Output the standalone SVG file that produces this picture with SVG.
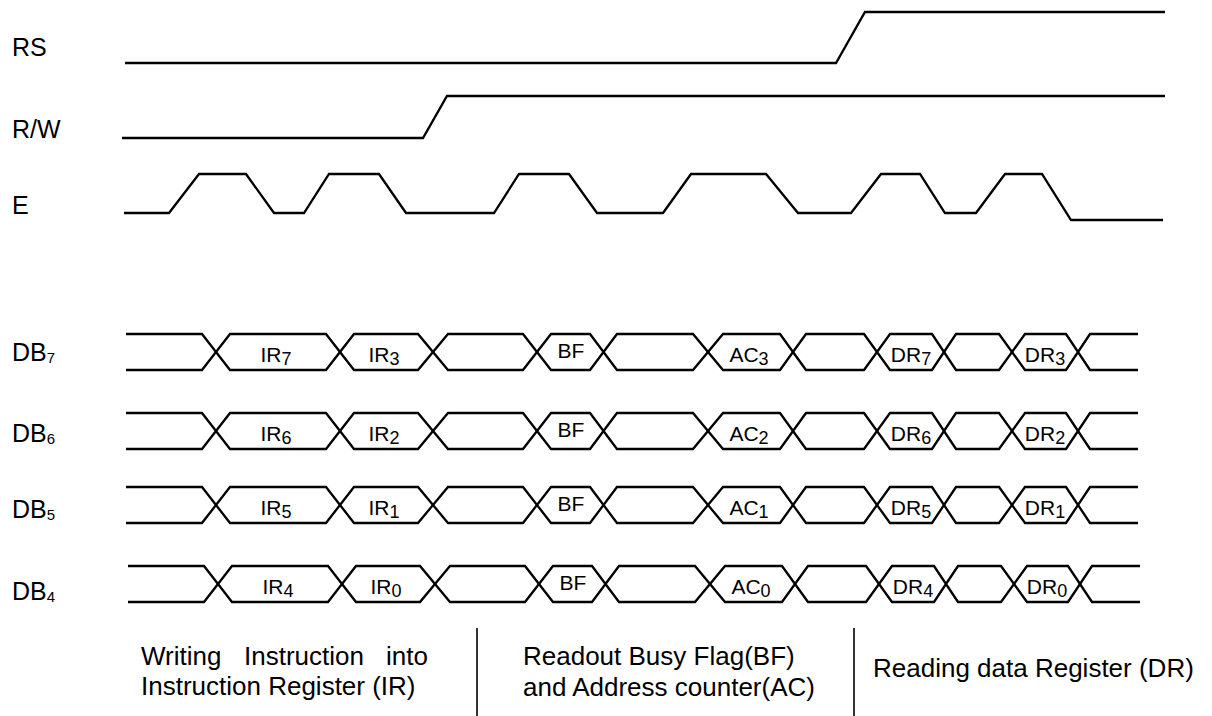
<svg xmlns="http://www.w3.org/2000/svg" xmlns:xlink="http://www.w3.org/1999/xlink" width="1212" height="716" viewBox="0 0 1212 716">
<style>
.w{fill:none;stroke:#000;stroke-width:2.3;stroke-linejoin:miter}
.lbl{font-family:"Liberation Sans",Arial,sans-serif;font-size:25px;fill:#000}
.seg{font-family:"Liberation Sans",Arial,sans-serif;font-size:21px;fill:#000;text-anchor:middle}
.sub{font-size:18px}
.lsub{font-size:15px}
.cap{font-family:"Liberation Sans",Arial,sans-serif;font-size:26px;fill:#000}
.div{stroke:#000;stroke-width:1.6}
</style>
<defs>
<path id="busA" d="M126,0 H202 L230,36 H326 L354,0 H418 L448,36 H523 L551,0 H590 L617,36 H693 L723,0 H780 L806,36 H864 L890,0 H932 L956,36 H999 L1025,0 H1066 L1090,36 H1138"/>
<path id="busB" d="M126,36 H202 L230,0 H326 L354,36 H418 L448,0 H523 L551,36 H590 L617,0 H693 L723,36 H780 L806,0 H864 L890,36 H932 L956,0 H999 L1025,36 H1066 L1090,0 H1138"/>
</defs>

<g id="labels">
<text class="lbl" x="12" y="56">RS</text>
<text class="lbl" x="12" y="138">R/W</text>
<text class="lbl" x="12" y="214">E</text>
<text class="lbl" x="12" y="361">DB<tspan class="lsub" dy="2">7</tspan></text>
<text class="lbl" x="12" y="442">DB<tspan class="lsub" dy="2">6</tspan></text>
<text class="lbl" x="12" y="518">DB<tspan class="lsub" dy="2">5</tspan></text>
<text class="lbl" x="12" y="600">DB<tspan class="lsub" dy="2">4</tspan></text>
</g>

<g id="connectors">
<path id="rs" class="w" d="M125,63 H836 L865,12 H1165"/>
<path id="rw" class="w" d="M122,138 H423 L447,96 H1165"/>
<path id="e" class="w" d="M124,213 H169 L199,174 H246 L274,213 H304 L329,174 H379 L406,213 H494 L519,174 H569 L597,213 H663 L691,174 H766 L798,213 H851 L881,174 H920 L945,213 H976 L1005,174 H1042 L1071,220 H1163"/>
</g>

<g id="db7" transform="translate(0,334)">
<use xlink:href="#busA" class="w"/><use xlink:href="#busB" class="w"/>
<text class="seg" x="276" y="28">IR<tspan class="sub" dy="3">7</tspan></text>
<text class="seg" x="384" y="28">IR<tspan class="sub" dy="3">3</tspan></text>
<text class="seg" x="571" y="24">BF</text>
<text class="seg" x="749" y="28">AC<tspan class="sub" dy="3">3</tspan></text>
<text class="seg" x="911" y="28">DR<tspan class="sub" dy="3">7</tspan></text>
<text class="seg" x="1045" y="28">DR<tspan class="sub" dy="3">3</tspan></text>
</g>

<g id="db6" transform="translate(0,413)">
<use xlink:href="#busA" class="w"/><use xlink:href="#busB" class="w"/>
<text class="seg" x="276" y="28">IR<tspan class="sub" dy="3">6</tspan></text>
<text class="seg" x="384" y="28">IR<tspan class="sub" dy="3">2</tspan></text>
<text class="seg" x="571" y="24">BF</text>
<text class="seg" x="749" y="28">AC<tspan class="sub" dy="3">2</tspan></text>
<text class="seg" x="911" y="28">DR<tspan class="sub" dy="3">6</tspan></text>
<text class="seg" x="1045" y="28">DR<tspan class="sub" dy="3">2</tspan></text>
</g>

<g id="db5" transform="translate(0,487)">
<use xlink:href="#busA" class="w"/><use xlink:href="#busB" class="w"/>
<text class="seg" x="276" y="28">IR<tspan class="sub" dy="3">5</tspan></text>
<text class="seg" x="384" y="28">IR<tspan class="sub" dy="3">1</tspan></text>
<text class="seg" x="571" y="24">BF</text>
<text class="seg" x="749" y="28">AC<tspan class="sub" dy="3">1</tspan></text>
<text class="seg" x="911" y="28">DR<tspan class="sub" dy="3">5</tspan></text>
<text class="seg" x="1045" y="28">DR<tspan class="sub" dy="3">1</tspan></text>
</g>

<g id="db4" transform="translate(2,566)">
<use xlink:href="#busA" class="w"/><use xlink:href="#busB" class="w"/>
<text class="seg" x="276" y="28">IR<tspan class="sub" dy="3">4</tspan></text>
<text class="seg" x="384" y="28">IR<tspan class="sub" dy="3">0</tspan></text>
<text class="seg" x="571" y="24">BF</text>
<text class="seg" x="749" y="28">AC<tspan class="sub" dy="3">0</tspan></text>
<text class="seg" x="911" y="28">DR<tspan class="sub" dy="3">4</tspan></text>
<text class="seg" x="1045" y="28">DR<tspan class="sub" dy="3">0</tspan></text>
</g>

<g id="phases">
<text class="cap" y="665"><tspan x="141">Writing</tspan><tspan x="244">Instruction</tspan><tspan x="386">into</tspan></text>
<text class="cap" x="141" y="695">Instruction Register (IR)</text>
<line class="div" x1="477" y1="628" x2="477" y2="716"/>
<text class="cap" x="523" y="665">Readout Busy Flag(BF)</text>
<text class="cap" x="523" y="696">and Address counter(AC)</text>
<line class="div" x1="854" y1="628" x2="854" y2="716"/>
<text class="cap" x="873" y="677">Reading data Register (DR)</text>
</g>
</svg>
